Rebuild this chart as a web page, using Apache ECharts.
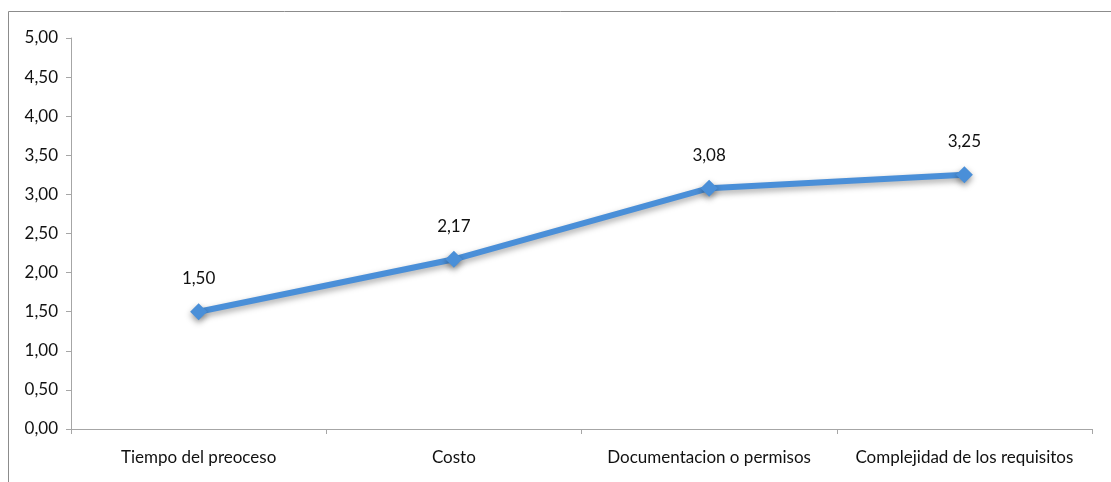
<!DOCTYPE html>
<html>
<head>
<meta charset="utf-8">
<script src="https://cdn.jsdelivr.net/npm/echarts@6/dist/echarts.min.js"></script>
<style>
  html, body { margin: 0; padding: 0; background: #fff; }
  #chart { width: 1111px; height: 482px; }
</style>
</head>
<body>
<div id="chart"></div>
<script>
const categories = ['Tiempo del preoceso', 'Costo', 'Documentacion o permisos', 'Complejidad de los requisitos'];
const values = [1.50, 2.17, 3.08, 3.25];
const yTicks = [0, 0.5, 1, 1.5, 2, 2.5, 3, 3.5, 4, 4.5, 5];

const fmt = v => v.toFixed(2).replace('.', ',');
const FONT = 'Lato, "Noto Sans", sans-serif';

const chart = echarts.init(document.getElementById('chart'), null, { renderer: 'canvas' });
chart.setOption({
  animation: false,
  backgroundColor: '#fff',
  graphic: [{
    type: 'rect',
    shape: { x: 8.5, y: 11.5, width: 1200, height: 600 },
    style: { fill: 'none', stroke: '#8c8c8c', lineWidth: 1 },
    silent: true
  }],
  grid: { left: 71, top: 38, right: 19, bottom: 53 },
  xAxis: {
    type: 'category',
    data: categories,
    boundaryGap: true,
    axisLine: { lineStyle: { color: '#a6a6a6', width: 1 } },
    axisTick: { show: true, length: 5, interval: 0, lineStyle: { color: '#a6a6a6' } },
    axisLabel: { color: '#111', fontSize: 17, fontFamily: FONT, margin: 20, interval: 0, hideOverlap: false }
  },
  yAxis: {
    type: 'value',
    min: yTicks[0],
    max: yTicks[yTicks.length - 1],
    interval: 0.5,
    axisLine: { show: true, lineStyle: { color: '#a6a6a6', width: 1 } },
    axisTick: { show: true, length: 5, inside: false, lineStyle: { color: '#a6a6a6' } },
    splitLine: { show: false },
    axisLabel: { color: '#111', fontSize: 17, fontFamily: FONT, margin: 13, formatter: v => fmt(v) }
  },
  series: [{
    type: 'line',
    data: values,
    symbol: 'diamond',
    symbolSize: 17,
    lineStyle: {
      color: '#4a8fd8', width: 6,
      shadowColor: 'rgba(0,0,0,0.35)', shadowBlur: 6, shadowOffsetY: 3
    },
    itemStyle: {
      color: '#4a8fd8',
      shadowColor: 'rgba(0,0,0,0.4)', shadowBlur: 6, shadowOffsetY: 3
    },
    label: {
      show: true, position: 'top', distance: 16,
      color: '#111', fontSize: 17, fontFamily: FONT,
      formatter: p => fmt(p.value)
    }
  }]
});
</script>
</body>
</html>
